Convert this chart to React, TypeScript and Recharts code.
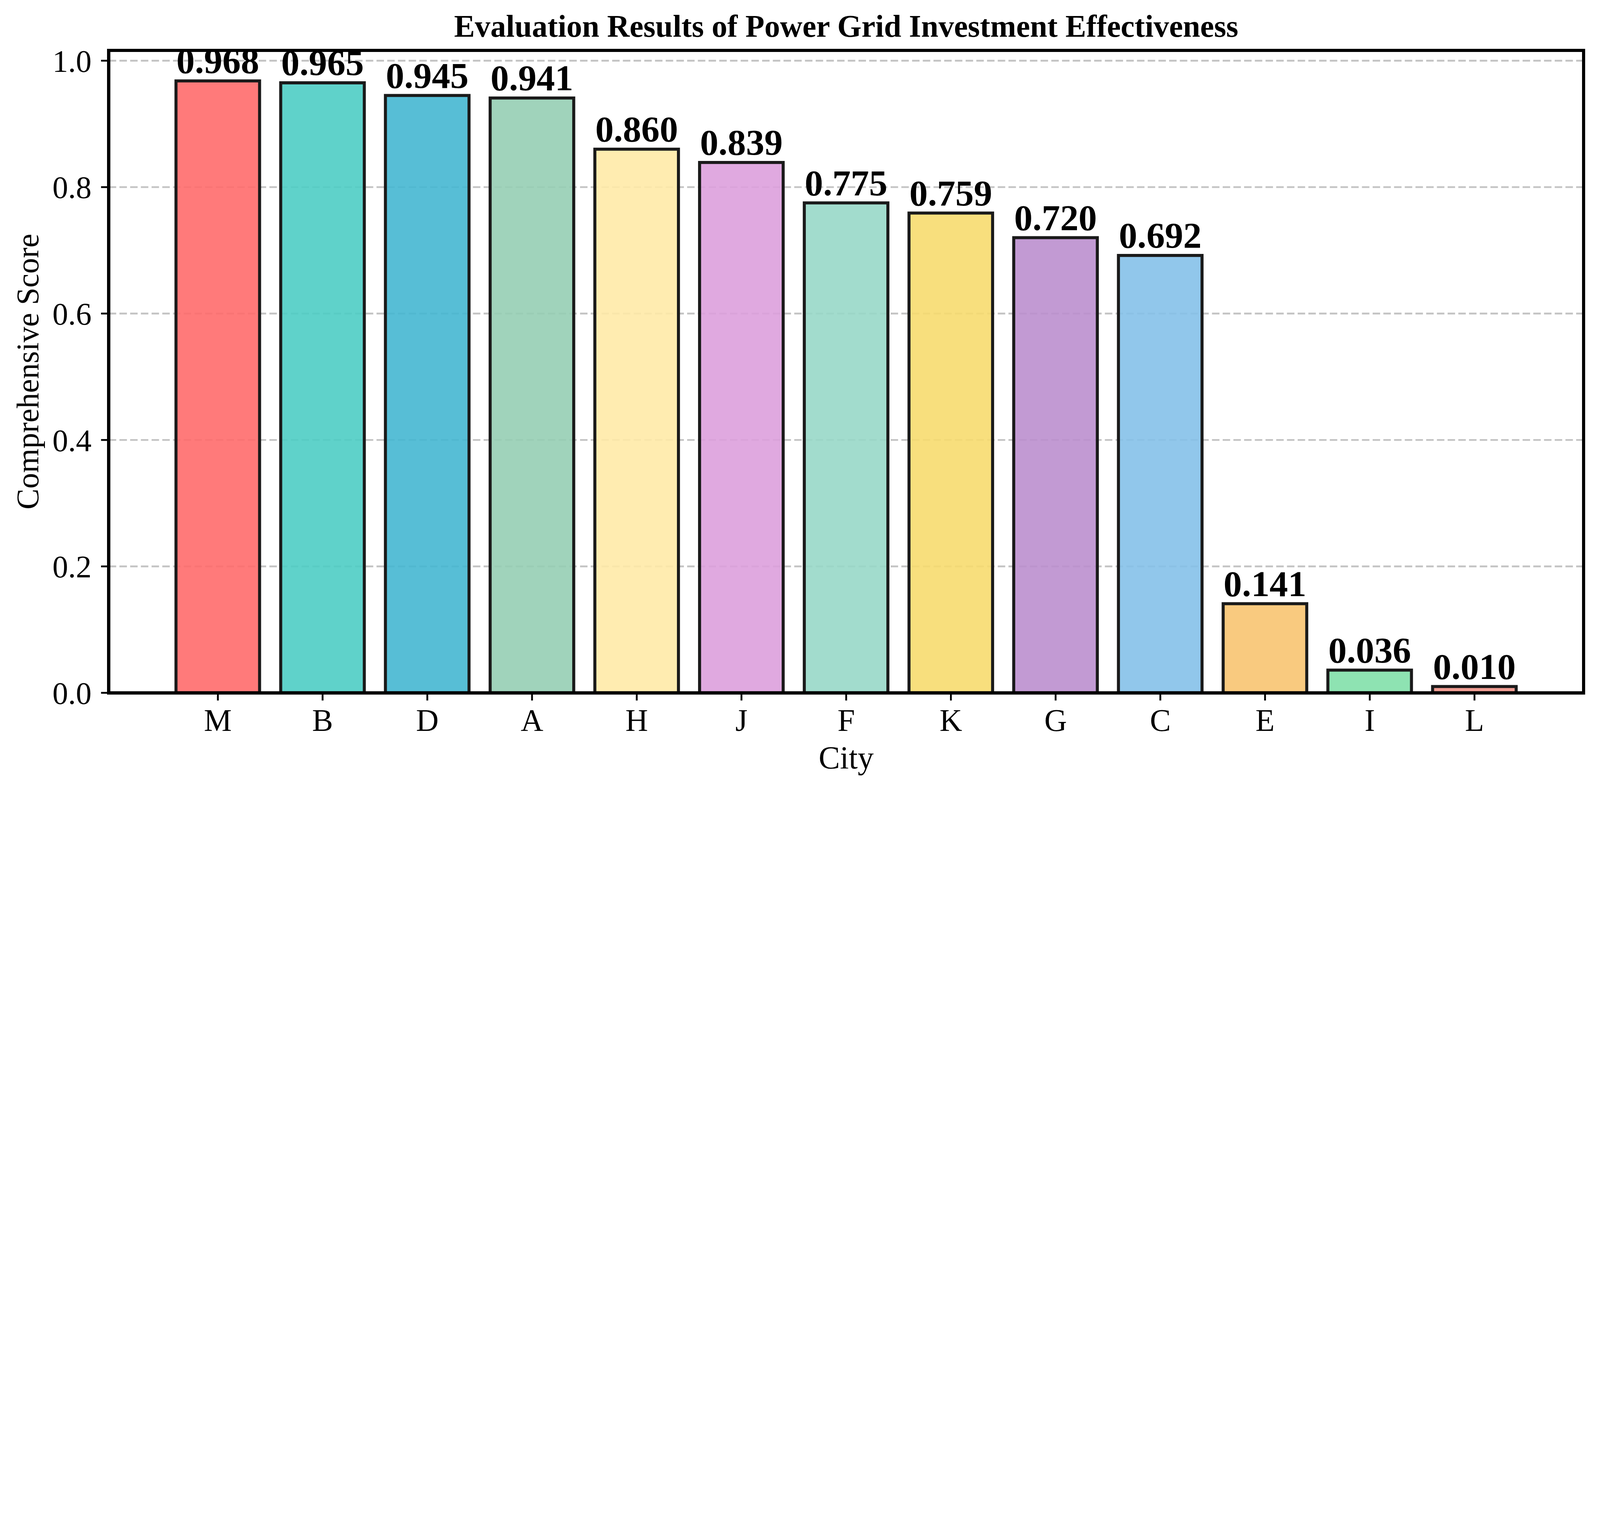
import React from "react";
import {
  Bar,
  BarChart,
  CartesianGrid,
  Cell,
  Label,
  LabelList,
  XAxis,
  YAxis,
} from "recharts";

// cities sorted by comprehensive score
const cities = ["M", "B", "D", "A", "H", "J", "F", "K", "G", "C", "E", "I", "L"];
const scores = [0.968, 0.965, 0.945, 0.941, 0.86, 0.839, 0.775, 0.759, 0.72, 0.692, 0.141, 0.036, 0.01];
const barColors = [
  "#FF6B6B", "#4ECDC4", "#45B7D1", "#96CEB4", "#FFEAA7", "#DDA0DD", "#98D8C8",
  "#F7DC6F", "#BB8FCE", "#85C1E9", "#F8C471", "#82E0AA", "#F1948A",
];
const yTicks = [0, 0.2, 0.4, 0.6, 0.8, 1.0];
const yMax = 0.968 * 1.05;

const FONT = '"Liberation Serif", "Times New Roman", serif';

// layout measured on the 7917x3914 reference, scaled to the 4096px wide page
const S = 4096 / 7917;
const s = (v: number) => v * S;
const W = 7917;
const H = 3914;
const PLOT_LEFT = 538;
const PLOT_TOP = 249;
const PLOT_RIGHT = 7836;
const PLOT_BOTTOM = 3428;
const LINE = 16;

const data = cities.map((city, i) => ({ city, score: scores[i] }));

function YTitle() {
  const cy = s((PLOT_TOP + PLOT_BOTTOM) / 2);
  const x = s(190);
  return (
    <text
      x={x}
      y={cy}
      transform={`rotate(-90 ${x} ${cy})`}
      textAnchor="middle"
      fontFamily={FONT}
      fontSize={s(155)}
      fill="#000"
    >
      Comprehensive Score
    </text>
  );
}

function XTitle() {
  return (
    <text
      x={s((PLOT_LEFT + PLOT_RIGHT) / 2)}
      y={s(3802)}
      textAnchor="middle"
      fontFamily={FONT}
      fontSize={s(158)}
      fill="#000"
    >
      City
    </text>
  );
}

export default function App() {
  return (
    <div
      style={{
        position: "relative",
        margin: -8,
        width: s(W),
        height: s(H),
        background: "#fff",
        overflow: "hidden",
      }}
    >
      <BarChart
        width={s(W)}
        height={s(H)}
        data={data}
        margin={{ top: s(PLOT_TOP), right: s(W - PLOT_RIGHT), bottom: 0, left: 0 }}
        barCategoryGap="10%"
      >
        <CartesianGrid
          horizontal
          vertical={false}
          stroke="#c4c4c4"
          strokeWidth={s(9)}
          strokeDasharray={`${s(37)} ${s(16)}`}
        />
        <XAxis
          dataKey="city"
          interval={0}
          height={s(H - PLOT_BOTTOM)}
          padding={{ left: s(281), right: s(281) }}
          tickSize={s(38)}
          tickMargin={s(40)}
          axisLine={{ stroke: "#000", strokeWidth: s(LINE) }}
          tickLine={{ stroke: "#000", strokeWidth: s(9) }}
          tick={{ fill: "#000", fontSize: s(155), fontFamily: FONT }}
        >
          <Label content={XTitle} />
        </XAxis>
        <YAxis
          width={s(PLOT_LEFT)}
          domain={[0, yMax]}
          ticks={yTicks}
          allowDataOverflow
          tickFormatter={(v: number) => v.toFixed(1)}
          tickSize={s(38)}
          tickMargin={s(47)}
          axisLine={{ stroke: "#000", strokeWidth: s(LINE) }}
          tickLine={{ stroke: "#000", strokeWidth: s(9) }}
          tick={{ fill: "#000", fontSize: s(155), fontFamily: FONT }}
        >
          <Label content={YTitle} />
        </YAxis>
        <Bar
          dataKey="score"
          isAnimationActive={false}
          stroke="#1a1a1a"
          strokeWidth={s(15)}
          fillOpacity={0.9}
        >
          {data.map((d, i) => (
            <Cell key={d.city} fill={barColors[i]} />
          ))}
          <LabelList
            dataKey="score"
            position="top"
            offset={s(38)}
            formatter={(v: any) => Number(v).toFixed(3)}
            fill="#000"
            fontSize={s(182)}
            fontWeight="bold"
            fontFamily={FONT}
          />
        </Bar>
      </BarChart>
      {/* axes frame (matplotlib spines) */}
      <div
        style={{
          position: "absolute",
          left: s(PLOT_LEFT - LINE / 2),
          top: s(PLOT_TOP - LINE / 2),
          width: s(PLOT_RIGHT - PLOT_LEFT + LINE),
          height: s(PLOT_BOTTOM - PLOT_TOP + LINE),
          border: `${s(LINE)}px solid #000`,
          boxSizing: "border-box",
          pointerEvents: "none",
        }}
      />
      <div
        style={{
          position: "absolute",
          left: s((PLOT_LEFT + PLOT_RIGHT) / 2 - 2500),
          width: s(5000),
          top: s(54),
          textAlign: "center",
          fontFamily: FONT,
          fontWeight: "bold",
          fontSize: s(154),
          lineHeight: 1,
          color: "#000",
        }}
      >
        Evaluation Results of Power Grid Investment Effectiveness
      </div>
    </div>
  );
}
